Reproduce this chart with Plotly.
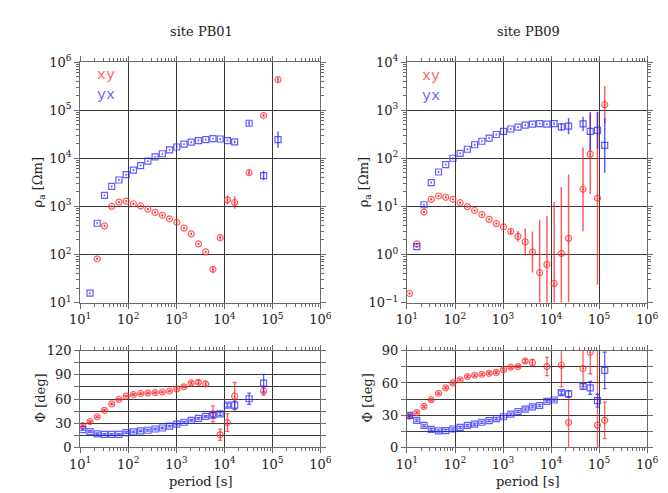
import plotly.graph_objects as go

# ---------------- data ----------------
# site PB01
pb01_rho_xy_T = [22.6, 32, 45.3, 64, 90.5, 128, 181, 256, 362, 512, 724, 1024, 1448, 2048, 2896, 4096,
                 5793, 8192, 11585, 16384, 32768, 65536, 131072]
pb01_rho_xy = [81, 393, 1000, 1225, 1283, 1132, 1018, 871, 748, 651, 550, 466, 353, 268, 166, 113,
               49, 223, 1361, 1202, 5012, 77300, 430000]
pb01_rho_xy_elog = [0.02] * 16 + [0.07, 0.04, 0.09, 0.13, 0.05, 0.03, 0.05]

pb01_rho_yx_T = [16, 22.6, 32, 45.3, 64, 90.5, 128, 181, 256, 362, 512, 724, 1024, 1448, 2048, 2896,
                 4096, 5793, 8192, 11585, 16384, 32768, 65536, 131072]
pb01_rho_yx = [15.6, 445, 1690, 2594, 3532, 4571, 5675, 7047, 8710, 10670, 12400, 14930, 17140, 19680,
               21580, 23330, 24430, 25590, 25120, 23330, 21880, 53460, 4365, 24430]
pb01_rho_yx_elog = [0.02] * 20 + [0.03, 0.05, 0.1, 0.17]

pb01_phi_xy_T = [11.3, 16, 22.6, 32, 45.3, 64, 90.5, 128, 181, 256, 362, 512, 724, 1024, 1448, 2048,
                 2896, 4096, 5793, 8192, 11585, 16384, 65536]
pb01_phi_xy = [26.9, 32, 38, 46, 54, 59.6, 63.6, 65.6, 66.8, 67.6, 68, 68.8, 70, 72.5, 75.2, 80,
               80.8, 78.8, 41.6, 15.6, 30.8, 63.6, 70]
pb01_phi_xy_err = [1] * 15 + [1.5, 2, 2.5, 10, 7, 11, 17, 5]

pb01_phi_yx_T = [11.3, 16, 22.6, 32, 45.3, 64, 90.5, 128, 181, 256, 362, 512, 724, 1024, 1448, 2048,
                 2896, 4096, 5793, 8192, 11585, 16384, 32768, 65536]
pb01_phi_yx = [22, 19.6, 16.8, 16, 16, 16, 18.4, 19.2, 20.4, 21.2, 22.8, 24, 26.4, 28.8, 31.2, 33.6,
               36, 38.4, 40, 41.6, 52.4, 52.4, 60.4, 79.7]
pb01_phi_yx_err = [1] * 18 + [3, 2, 2, 5, 7, 11]

# site PB09
pb09_rho_xy_T = [11.3, 16, 22.6, 32, 45.3, 64, 90.5, 128, 181, 256, 362, 512, 724, 1024, 1448, 2048,
                 2896, 4096, 5793, 8192, 11585, 16384, 23170, 46341, 65536, 92682, 131072]
pb09_rho_xy = [0.154, 1.66, 7.6, 14, 16.4, 15.4, 14, 11.9, 9.86, 8.2, 6.73, 5.35, 4.37, 3.75, 3.02, 2.37,
               1.82, 1.12, 0.417, 0.62, 0.25, 1.05, 2.16, 22.6, 122, 14.7, 1300]
pb09_rho_xy_elog = [0.02] * 14 + [0.05, 0.11, 0.28, 0.43, 1.1, 1.0, 1.69, 1.38, 1.33, 0.87, 0.83, 1.8, 0.39]

pb09_rho_yx_T = [16, 22.6, 32, 45.3, 64, 90.5, 128, 181, 256, 362, 512, 724, 1024, 1448, 2048, 2896,
                 4096, 5793, 8192, 11585, 16384, 23170, 46341, 65536, 92682, 131072]
pb09_rho_yx = [1.45, 10.8, 31.2, 51.8, 73.8, 100, 126, 154, 191, 226, 263, 312, 363, 406, 445, 488,
               511, 525, 511, 525, 451, 466, 518, 363, 380, 185]
pb09_rho_yx_elog = [0.02] * 19 + [0.03, 0.08, 0.17, 0.15, 0.4, 0.38, 0.57]

pb09_phi_xy_T = [11.3, 16, 22.6, 32, 45.3, 64, 90.5, 128, 181, 256, 362, 512, 724, 1024, 1448, 2048,
                 2896, 4096, 8192, 16384, 23170, 46341, 65536, 92682, 131072]
pb09_phi_xy = [29, 32.4, 38.1, 44.4, 50.4, 55.5, 60, 63, 66, 67.2, 68.1, 69, 69.9, 72.3, 74.7, 75.3,
               80.4, 78.9, 75.3, 76.5, 23.1, 73.5, 88.6, 20.7, 25.2]
pb09_phi_xy_err = [1] * 16 + [1.5, 3, 8.5, 20, 24, 17, 20, 75, 17]

pb09_phi_yx_T = [11.3, 16, 22.6, 32, 45.3, 64, 90.5, 128, 181, 256, 362, 512, 724, 1024, 1448, 2048,
                 2896, 4096, 5793, 8192, 11585, 16384, 23170, 46341, 65536, 92682, 131072]
pb09_phi_yx = [29.7, 25.2, 20.4, 16.8, 15.3, 15.6, 17.1, 18.6, 20.4, 21.6, 23.4, 24.9, 26.7, 28.5, 30.9,
               33.3, 35.7, 37.8, 39, 42.9, 44.1, 51, 49.8, 56.7, 55.5, 43.5, 71.7]
pb09_phi_yx_err = [1] * 21 + [1.5, 3, 2.5, 6, 6, 17]

x_tick_vals = [1e1, 1e2, 1e3, 1e4, 1e5, 1e6]
x_tick_text = ["10<sup>1</sup>", "10<sup>2</sup>", "10<sup>3</sup>", "10<sup>4</sup>", "10<sup>5</sup>", "10<sup>6</sup>"]
rho01_tick_vals = [1e1, 1e2, 1e3, 1e4, 1e5, 1e6]
rho01_tick_text = x_tick_text
rho09_tick_vals = [1e-1, 1e0, 1e1, 1e2, 1e3, 1e4]
rho09_tick_text = ["10<sup>\u22121</sup>", "10<sup>0</sup>", "10<sup>1</sup>", "10<sup>2</sup>", "10<sup>3</sup>", "10<sup>4</sup>"]
phi01_tick_vals = [0, 15, 30, 45, 60, 75, 90, 105, 120]
phi01_tick_text = ["0", "", "30", "", "60", "", "90", "", "120"]
phi09_tick_vals = [0, 15, 30, 45, 60, 75, 90]
phi09_tick_text = ["0", "", "30", "", "60", "", "90"]

# ---------------- style ----------------
W, H = 668, 493
RED = "rgba(255,40,40,0.75)"
BLUE = "rgba(40,40,255,0.75)"
SERIF = "DejaVu Serif"
MONO = "Liberation Mono"
FRAME = "#6a6a6a"
GRID = "#3a3a3a"


def dx(a, b):
    return [a / W, b / W]


def dy(top, bottom):
    return [1 - bottom / H, 1 - top / H]


def minor_log(lo, hi):
    vals = []
    for e in range(lo, hi):
        for m in range(2, 10):
            vals.append(m * 10 ** e)
    return vals


fig = go.Figure()


def rho_trace(T, v, elog, color, symbol, xa, ya):
    up = [val * (10 ** e - 1) for val, e in zip(v, elog)]
    dn = [val * (1 - 10 ** (-e)) for val, e in zip(v, elog)]
    fig.add_trace(go.Scatter(
        x=T, y=v, mode="markers", xaxis=xa, yaxis=ya, showlegend=False,
        marker=dict(symbol=symbol, size=6, color=color, line=dict(color=color, width=1.2)),
        error_y=dict(type="data", symmetric=False, array=up, arrayminus=dn,
                     color=color, thickness=1.5, width=0)))


def phi_trace(T, v, err, color, symbol, xa, ya):
    fig.add_trace(go.Scatter(
        x=T, y=v, mode="markers", xaxis=xa, yaxis=ya, showlegend=False,
        marker=dict(symbol=symbol, size=6, color=color, line=dict(color=color, width=1.2)),
        error_y=dict(type="data", array=err, color=color, thickness=1.3, width=2)))


rho_trace(pb01_rho_xy_T, pb01_rho_xy, pb01_rho_xy_elog, RED, "circle-open-dot", "x", "y")
rho_trace(pb01_rho_yx_T, pb01_rho_yx, pb01_rho_yx_elog, BLUE, "square-open", "x", "y")
rho_trace(pb09_rho_xy_T, pb09_rho_xy, pb09_rho_xy_elog, RED, "circle-open-dot", "x2", "y2")
rho_trace(pb09_rho_yx_T, pb09_rho_yx, pb09_rho_yx_elog, BLUE, "square-open", "x2", "y2")
phi_trace(pb01_phi_xy_T, pb01_phi_xy, pb01_phi_xy_err, RED, "circle-open-dot", "x3", "y3")
phi_trace(pb01_phi_yx_T, pb01_phi_yx, pb01_phi_yx_err, BLUE, "square-open", "x3", "y3")
phi_trace(pb09_phi_xy_T, pb09_phi_xy, pb09_phi_xy_err, RED, "circle-open-dot", "x4", "y4")
phi_trace(pb09_phi_yx_T, pb09_phi_yx, pb09_phi_yx_err, BLUE, "square-open", "x4", "y4")

common = dict(showline=True, linecolor=FRAME, linewidth=1, mirror=True,
              ticks="outside", ticklen=5, tickcolor=FRAME, tickwidth=1,
              showgrid=True, gridcolor=GRID, gridwidth=1, zeroline=False,
              tickfont=dict(family=SERIF, size=13, color="#222"))

mirror_common = dict(showline=False, ticks="outside", ticklen=5, tickcolor=FRAME, tickwidth=1,
                     showgrid=False, zeroline=False, showticklabels=False)


def xaxis_cfg(dom, anchor):
    return dict(common, domain=dom, anchor=anchor, type="log", range=[1, 6],
                tickmode="array", tickvals=x_tick_vals, ticktext=x_tick_text,
                minor=dict(tickmode="array", tickvals=minor_log(1, 6), ticks="outside",
                           ticklen=3, tickcolor=FRAME, showgrid=False))


def xmirror_cfg(dom, anchor, over):
    return dict(mirror_common, domain=dom, anchor=anchor, overlaying=over, side="top",
                type="log", range=[1, 6], tickmode="array", tickvals=x_tick_vals,
                minor=dict(tickmode="array", tickvals=minor_log(1, 6), ticks="outside",
                           ticklen=3, tickcolor=FRAME, showgrid=False))


def ylog_cfg(dom, anchor, rng, tv, tt):
    return dict(common, domain=dom, anchor=anchor, type="log", range=rng,
                tickmode="array", tickvals=tv, ticktext=tt,
                minor=dict(tickmode="array", tickvals=minor_log(rng[0], rng[1]), ticks="outside",
                           ticklen=3, tickcolor=FRAME, showgrid=False))


def ylogmirror_cfg(dom, anchor, over, rng, tv):
    return dict(mirror_common, domain=dom, anchor=anchor, overlaying=over, side="right",
                type="log", range=rng, tickmode="array", tickvals=tv,
                minor=dict(tickmode="array", tickvals=minor_log(rng[0], rng[1]), ticks="outside",
                           ticklen=3, tickcolor=FRAME, showgrid=False))


def ylin_cfg(dom, anchor, rng, tv, tt):
    return dict(common, domain=dom, anchor=anchor, range=rng,
                tickmode="array", tickvals=tv, ticktext=tt)


def ylinmirror_cfg(dom, anchor, over, rng, tv):
    return dict(mirror_common, domain=dom, anchor=anchor, overlaying=over, side="right",
                range=rng, tickmode="array", tickvals=tv)


LX = dx(63.3, 311.7)
RX = dx(401.2, 649.5)
TY = dy(46.7, 295.7)
BY = dy(345.7, 445.7)

fig.update_layout(
    width=W, height=H, margin=dict(l=0, r=0, t=0, b=0),
    paper_bgcolor="white", plot_bgcolor="white",
    xaxis=xaxis_cfg(LX, "y"),
    xaxis2=xaxis_cfg(RX, "y2"),
    xaxis3=xaxis_cfg(LX, "y3"),
    xaxis4=xaxis_cfg(RX, "y4"),
    yaxis=ylog_cfg(TY, "x", [1, 6], rho01_tick_vals, rho01_tick_text),
    yaxis2=ylog_cfg(TY, "x2", [-1, 4], rho09_tick_vals, rho09_tick_text),
    yaxis3=ylin_cfg(BY, "x3", [0, 120], phi01_tick_vals, phi01_tick_text),
    yaxis4=ylin_cfg(BY, "x4", [0, 90], phi09_tick_vals, phi09_tick_text),
    # mirrored tick axes (top / right)
    xaxis5=xmirror_cfg(LX, "y", "x"),
    xaxis6=xmirror_cfg(RX, "y2", "x2"),
    xaxis7=xmirror_cfg(LX, "y3", "x3"),
    xaxis8=xmirror_cfg(RX, "y4", "x4"),
    yaxis5=ylogmirror_cfg(TY, "x", "y", [1, 6], rho01_tick_vals),
    yaxis6=ylogmirror_cfg(TY, "x2", "y2", [-1, 4], rho09_tick_vals),
    yaxis7=ylinmirror_cfg(BY, "x3", "y3", [0, 120], phi01_tick_vals),
    yaxis8=ylinmirror_cfg(BY, "x4", "y4", [0, 90], phi09_tick_vals),
)

# empty traces so the mirrored tick axes are drawn
for xa, ya in [("x5", "y"), ("x6", "y2"), ("x7", "y3"), ("x8", "y4"),
               ("x", "y5"), ("x2", "y6"), ("x3", "y7"), ("x4", "y8")]:
    fig.add_trace(go.Scatter(x=[None], y=[None], xaxis=xa, yaxis=ya, mode="markers",
                             showlegend=False, hoverinfo="skip"))

ann = []


def txt(x, y, s, size=13, color="#222", family=SERIF, angle=0):
    ann.append(dict(x=x / W, y=1 - y / H, xref="paper", yref="paper", text=s, showarrow=False,
                    xanchor="center", yanchor="middle", textangle=angle,
                    font=dict(family=family, size=size, color=color)))


txt(189, 15, "site PB01")
txt(527, 15, "site PB09")
txt(90, 61, "xy", size=15, color=RED, family=MONO)
txt(90, 81, "yx", size=15, color=BLUE, family=MONO)
txt(426, 62, "xy", size=15, color=RED, family=MONO)
txt(426, 82, "yx", size=15, color=BLUE, family=MONO)
txt(20, 171, "\u03c1<sub>a</sub> [\u03a9m]", angle=-90)
txt(357, 171, "\u03c1<sub>a</sub> [\u03a9m]", angle=-90)
txt(22, 395, "\u03a6 [deg]", angle=-90)
txt(360, 395, "\u03a6 [deg]", angle=-90)
txt(188, 481, "period [s]")
txt(526, 481, "period [s]")
fig.update_layout(annotations=ann)

fig.write_html("out.html")
